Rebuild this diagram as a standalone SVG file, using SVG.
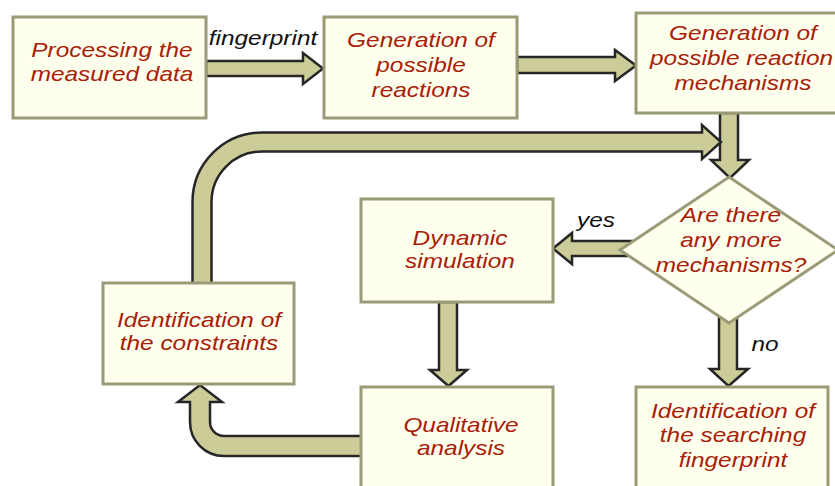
<svg xmlns="http://www.w3.org/2000/svg" width="835" height="486" viewBox="0 0 835 486">
<style>
.box{fill:#FFFFEE;stroke:#9B9B78;stroke-width:3}
.arr{fill:#CCCC99;stroke:#262626;stroke-width:2.5;stroke-linejoin:miter}
.t{font-family:"Liberation Sans",Arial,sans-serif;font-style:italic;font-size:20px;fill:#A82008;text-anchor:middle}
.lbl{font-family:"Liberation Sans",Arial,sans-serif;font-style:italic;font-size:20px;fill:#111;text-anchor:middle}
</style>
<rect width="835" height="486" fill="#FFFFFF"/>
<g id="connectors">
<path class="arr" d="M206,61 H303 V53 L323,68.5 L303,84 V76 H206 Z"/>
<path class="arr" d="M517,57 H615 V50 L636,65.5 L615,81 V73 H517 Z"/>
<path class="arr" d="M720,113 V160 H711 L730,178 L749,160 H738 V113 Z"/>
<path class="arr" d="M192.5,284 V202 A69.5,69.5 0 0 1 262,132.5 H702 V125 L721,142 L702,159 V151.5 H262 A50.5,50.5 0 0 0 211.5,202 V284 Z"/>
<path class="arr" d="M632,241 H572 V233 L553,248.5 L572,264 V256 H632 Z"/>
<path class="arr" d="M439,302 V370 H430 L448.5,386 L467,370 H457 V302 Z"/>
<path class="arr" d="M362,436 H224 A14,14 0 0 1 210,422 V402 H222 L200,385 L178,402 H190 V422 A34,34 0 0 0 224,456 H362 Z"/>
<path class="arr" d="M719,315 V369 H710 L728.5,386 L748,369 H737 V315 Z"/>
<text class="lbl" transform="matrix(1.22 0 0 1 263 0)" x="0" y="45">fingerprint</text>
<text class="lbl" transform="matrix(1.22 0 0 1 596 0)" x="0" y="227">yes</text>
<text class="lbl" transform="matrix(1.22 0 0 1 765 0)" x="0" y="351">no</text>
</g>
<g id="n1">
<rect class="box" x="13" y="17" width="193" height="101"/>
<text class="t" transform="matrix(1.22 0 0 1 112 0)"><tspan x="0" y="57">Processing the</tspan><tspan x="0" y="81">measured data</tspan></text>
</g>
<g id="n2">
<rect class="box" x="324" y="17" width="193" height="101"/>
<text class="t" transform="matrix(1.22 0 0 1 421 0)"><tspan x="0" y="47">Generation of</tspan><tspan x="0" y="72">possible</tspan><tspan x="0" y="97">reactions</tspan></text>
</g>
<g id="n3">
<rect class="box" x="636" y="13" width="214" height="100"/>
<text class="t" transform="matrix(1.22 0 0 1 743 0)"><tspan x="0" y="40">Generation of</tspan><tspan x="0" y="90">mechanisms</tspan></text>
<text class="t" style="text-anchor:start" transform="matrix(1.22 0 0 1 650 0)" x="0" y="65">possible reaction</text>
</g>
<g id="n4">
<polygon class="box" points="729,177 838,250 729,323 620,250"/>
<text class="t" transform="matrix(1.22 0 0 1 731 0)"><tspan x="0" y="222">Are there</tspan><tspan x="0" y="247">any more</tspan><tspan x="0" y="272">mechanisms?</tspan></text>
</g>
<g id="n5">
<rect class="box" x="361" y="199" width="192" height="103"/>
<text class="t" transform="matrix(1.22 0 0 1 460 0)"><tspan x="0" y="245">Dynamic</tspan><tspan x="0" y="268">simulation</tspan></text>
</g>
<g id="n6">
<rect class="box" x="361" y="387" width="192" height="105"/>
<text class="t" transform="matrix(1.22 0 0 1 461 0)"><tspan x="0" y="432">Qualitative</tspan><tspan x="0" y="455">analysis</tspan></text>
</g>
<g id="n7">
<rect class="box" x="103" y="283" width="191" height="101"/>
<text class="t" transform="matrix(1.22 0 0 1 199 0)"><tspan x="0" y="327">Identification of</tspan><tspan x="0" y="350">the constraints</tspan></text>
</g>
<g id="n8">
<rect class="box" x="636" y="387" width="192" height="105"/>
<text class="t" transform="matrix(1.22 0 0 1 733 0)"><tspan x="0" y="418">Identification of</tspan><tspan x="0" y="442">the searching</tspan><tspan x="0" y="467">fingerprint</tspan></text>
</g>
</svg>
